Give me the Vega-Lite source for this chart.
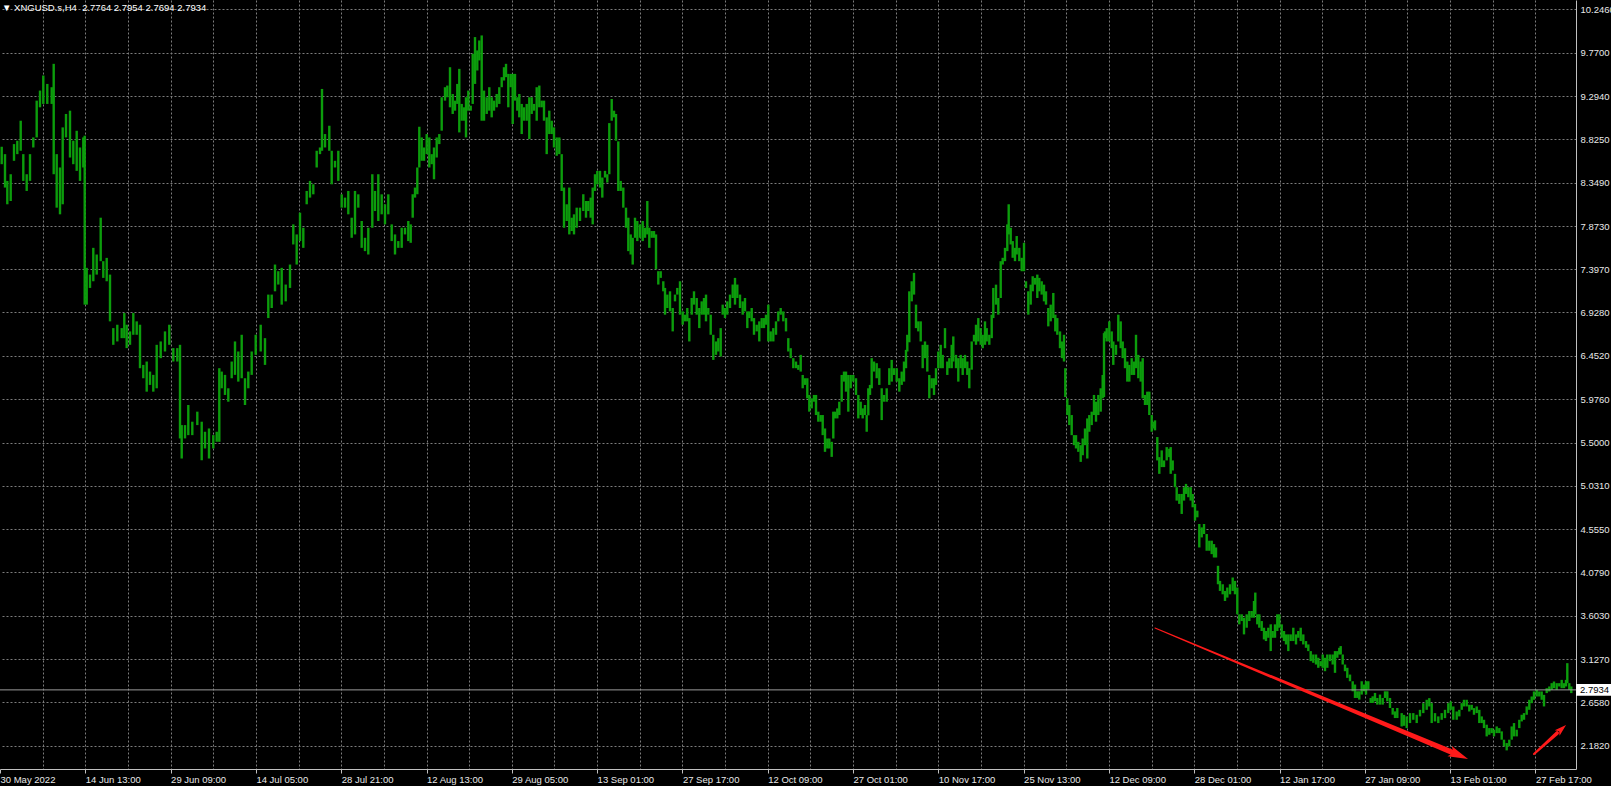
{
"$schema":"https://vega.github.io/schema/vega-lite/v6.json",
"width":1576,"height":769,
"autosize":{"type":"none"},
"padding":{"left":0,"top":0,"right":35,"bottom":17},
"background":"#000000",
"title":{"text":"▼ XNGUSD.s,H4\u00a0\u00a02.7764 2.7954 2.7694 2.7934","anchor":"start","frame":"group","offset":-12,"color":"#ffffff","font":"Liberation Sans","fontSize":9.5,"fontWeight":"normal","dx":2},
"config":{"view":{"stroke":null}},
"datasets":{
"bars":[
{"x":1.7,"h":8.741,"l":8.55},{"x":5,"h":8.66,"l":8.294},{"x":7.3,"h":8.367,"l":8.111},{"x":10.7,"h":8.44,"l":8.147},{"x":14,"h":8.77,"l":8.587},{"x":17.3,"h":8.807,"l":8.66},{"x":20.7,"h":9.026,"l":8.697},{"x":23.3,"h":8.66,"l":8.367},{"x":26.7,"h":8.44,"l":8.257},{"x":30,"h":8.66,"l":8.367},{"x":33.3,"h":8.843,"l":8.733},{"x":36.7,"h":9.246,"l":8.843},{"x":40,"h":9.356,"l":9.173},{"x":43.3,"h":9.521,"l":9.21},{"x":47.3,"h":9.429,"l":9.21},{"x":51.7,"h":9.393,"l":9.21},{"x":53.7,"h":9.649,"l":8.44},{"x":56.7,"h":8.66,"l":8.074},{"x":60,"h":8.514,"l":8.001},{"x":62.7,"h":8.953,"l":8.111},{"x":66,"h":9.1,"l":8.843},{"x":70,"h":9.136,"l":8.623},{"x":73.3,"h":8.807,"l":8.55},{"x":76.7,"h":8.916,"l":8.477},{"x":80,"h":8.733,"l":8.367},{"x":83.3,"h":8.843,"l":8.514},{"x":84.7,"h":8.862,"l":7.012},{"x":86.7,"h":7.415,"l":7.012},{"x":90,"h":7.341,"l":7.195},{"x":93.3,"h":7.634,"l":7.268},{"x":96.7,"h":7.561,"l":7.341},{"x":100.7,"h":7.964,"l":7.488},{"x":103.3,"h":7.488,"l":7.305},{"x":106.7,"h":7.524,"l":7.268},{"x":110,"h":7.341,"l":6.829},{"x":113.3,"h":6.755,"l":6.572},{"x":117.3,"h":6.792,"l":6.609},{"x":121.7,"h":6.755,"l":6.645},{"x":124.3,"h":6.92,"l":6.645},{"x":126.7,"h":6.792,"l":6.536},{"x":130,"h":6.719,"l":6.572},{"x":133.3,"h":6.92,"l":6.682},{"x":136.7,"h":6.829,"l":6.682},{"x":140,"h":6.792,"l":6.316},{"x":143.3,"h":6.352,"l":6.206},{"x":146.7,"h":6.389,"l":6.059},{"x":150,"h":6.279,"l":6.133},{"x":153.3,"h":6.243,"l":6.059},{"x":156.7,"h":6.572,"l":6.096},{"x":160.7,"h":6.609,"l":6.426},{"x":165,"h":6.719,"l":6.499},{"x":169.3,"h":6.792,"l":6.572},{"x":173.3,"h":6.536,"l":6.389},{"x":177.3,"h":6.536,"l":6.389},{"x":180,"h":6.572,"l":5.547},{"x":181.7,"h":5.693,"l":5.327},{"x":185,"h":5.693,"l":5.547},{"x":188.3,"h":5.913,"l":5.583},{"x":192.3,"h":5.73,"l":5.583},{"x":197.3,"h":5.84,"l":5.693},{"x":201.7,"h":5.73,"l":5.308},{"x":205,"h":5.62,"l":5.437},{"x":209,"h":5.656,"l":5.327},{"x":213.3,"h":5.583,"l":5.437},{"x":216.7,"h":5.62,"l":5.51},{"x":219.3,"h":6.316,"l":5.51},{"x":221.7,"h":6.279,"l":6.096},{"x":225,"h":6.243,"l":6.023},{"x":228.3,"h":6.096,"l":5.949},{"x":231.7,"h":6.389,"l":6.206},{"x":235,"h":6.609,"l":6.243},{"x":238.3,"h":6.499,"l":6.169},{"x":241.7,"h":6.682,"l":6.206},{"x":245,"h":6.206,"l":5.913},{"x":248.3,"h":6.279,"l":6.096},{"x":251.7,"h":6.499,"l":6.243},{"x":255.7,"h":6.682,"l":6.462},{"x":260.7,"h":6.792,"l":6.499},{"x":265,"h":6.645,"l":6.352},{"x":268.3,"h":7.122,"l":6.865},{"x":271.7,"h":7.122,"l":6.975},{"x":275,"h":7.451,"l":7.158},{"x":278.3,"h":7.378,"l":7.232},{"x":281.7,"h":7.415,"l":7.012},{"x":285.7,"h":7.232,"l":7.048},{"x":290,"h":7.451,"l":7.195},{"x":293.3,"h":7.891,"l":7.671},{"x":296.7,"h":7.781,"l":7.451},{"x":300,"h":8.019,"l":7.708},{"x":303.3,"h":7.854,"l":7.634},{"x":306.7,"h":8.257,"l":8.111},{"x":310,"h":8.367,"l":8.184},{"x":313.3,"h":8.33,"l":8.22},{"x":316.7,"h":8.697,"l":8.514},{"x":320,"h":8.733,"l":8.66},{"x":322,"h":9.374,"l":8.697},{"x":325,"h":8.88,"l":8.733},{"x":329.3,"h":8.971,"l":8.697},{"x":331.7,"h":8.697,"l":8.33},{"x":335,"h":8.587,"l":8.514},{"x":338.3,"h":8.697,"l":8.367},{"x":341.7,"h":8.22,"l":8.074},{"x":345,"h":8.184,"l":8.074},{"x":348.3,"h":8.257,"l":8.001},{"x":351.7,"h":7.964,"l":7.744},{"x":355,"h":8.257,"l":7.781},{"x":358.3,"h":8.22,"l":8.074},{"x":361.7,"h":7.928,"l":7.634},{"x":365,"h":7.744,"l":7.598},{"x":368.3,"h":7.854,"l":7.561},{"x":372.3,"h":8.44,"l":7.854},{"x":375,"h":8.257,"l":8.037},{"x":378.3,"h":8.44,"l":7.928},{"x":381.7,"h":8.22,"l":8.001},{"x":385,"h":8.111,"l":7.891},{"x":388.3,"h":8.22,"l":8.001},{"x":391.7,"h":7.891,"l":7.708},{"x":395,"h":7.781,"l":7.561},{"x":398.3,"h":7.708,"l":7.634},
{"x":401.7,"h":7.854,"l":7.634},{"x":405,"h":7.854,"l":7.781},{"x":408.3,"h":7.928,"l":7.708},{"x":410.7,"h":7.891,"l":7.689},{"x":412.7,"h":8.221,"l":7.964},{"x":415,"h":8.294,"l":8.184},{"x":417.3,"h":8.514,"l":8.221},{"x":419.3,"h":8.96,"l":8.514},{"x":421.7,"h":8.843,"l":8.587},{"x":424,"h":8.733,"l":8.587},{"x":426.7,"h":8.88,"l":8.66},{"x":429.3,"h":8.843,"l":8.514},{"x":431.7,"h":8.66,"l":8.55},{"x":434,"h":8.733,"l":8.385},{"x":436.7,"h":8.843,"l":8.623},{"x":439.3,"h":8.88,"l":8.77},{"x":441.7,"h":9.283,"l":8.917},{"x":445,"h":9.393,"l":9.246},{"x":447.3,"h":9.411,"l":9.283},{"x":450,"h":9.612,"l":9.173},{"x":452.7,"h":9.319,"l":9.1},{"x":455,"h":9.246,"l":9.136},{"x":457.3,"h":9.429,"l":9.21},{"x":459.3,"h":9.594,"l":8.898},{"x":461.7,"h":9.21,"l":9.026},{"x":464,"h":9.173,"l":9.026},{"x":466,"h":9.283,"l":8.843},{"x":468.3,"h":9.356,"l":9.136},{"x":470.7,"h":9.191,"l":9.136},{"x":472.7,"h":9.759,"l":9.21},{"x":475,"h":9.942,"l":9.429},{"x":477.3,"h":9.796,"l":9.576},{"x":479.3,"h":9.905,"l":9.686},{"x":481.7,"h":9.96,"l":9.026},{"x":484,"h":9.356,"l":9.026},{"x":486.7,"h":9.283,"l":9.1},{"x":489.3,"h":9.393,"l":9.136},{"x":491.7,"h":9.283,"l":9.063},{"x":494,"h":9.246,"l":9.136},{"x":496.7,"h":9.319,"l":9.173},{"x":499.3,"h":9.393,"l":9.21},{"x":501.7,"h":9.503,"l":9.393},{"x":504,"h":9.612,"l":9.466},{"x":506,"h":9.649,"l":9.503},{"x":508.3,"h":9.539,"l":9.173},{"x":510.7,"h":9.539,"l":9.393},{"x":512.7,"h":9.539,"l":8.99},{"x":515,"h":9.539,"l":9.246},{"x":517.3,"h":9.283,"l":9.136},{"x":519.3,"h":9.319,"l":9.063},{"x":521.7,"h":9.21,"l":8.88},{"x":524,"h":9.173,"l":9.026},{"x":526.7,"h":9.21,"l":9.026},{"x":529.3,"h":9.283,"l":8.825},{"x":531.7,"h":9.283,"l":9.1},{"x":534,"h":9.21,"l":9.136},{"x":536.7,"h":9.393,"l":9.026},{"x":539.3,"h":9.411,"l":9.173},{"x":541.7,"h":9.246,"l":9.173},{"x":544,"h":9.246,"l":9.026},{"x":546.7,"h":9.063,"l":8.66},{"x":549.3,"h":9.136,"l":8.88},{"x":551.7,"h":9.026,"l":8.88},{"x":554,"h":8.953,"l":8.733},{"x":556.7,"h":8.843,"l":8.642},{"x":559.3,"h":8.843,"l":8.66},{"x":561.7,"h":8.66,"l":8.257},{"x":564,"h":8.294,"l":7.854},{"x":566.7,"h":8.111,"l":7.928},{"x":569.3,"h":8.294,"l":7.781},{"x":571.7,"h":7.964,"l":7.818},{"x":574,"h":8.001,"l":7.781},{"x":576.7,"h":8.074,"l":7.854},{"x":580,"h":8.074,"l":7.928},{"x":583.3,"h":8.221,"l":8.037},{"x":586,"h":8.147,"l":7.964},{"x":588.3,"h":8.147,"l":8.037},{"x":590.7,"h":8.184,"l":7.964},{"x":592.7,"h":8.294,"l":7.891},{"x":595,"h":8.44,"l":8.257},{"x":597.3,"h":8.477,"l":8.33},{"x":600,"h":8.477,"l":8.294},{"x":602.3,"h":8.404,"l":8.184},{"x":605,"h":8.477,"l":8.404},{"x":607.3,"h":8.44,"l":8.349},{"x":609.3,"h":9.0,"l":8.44},{"x":611.7,"h":9.264,"l":9.026},{"x":614,"h":9.136,"l":9.063},{"x":616,"h":9.1,"l":8.807},{"x":618.3,"h":8.8,"l":8.257},{"x":620.7,"h":8.367,"l":8.257},{"x":623.3,"h":8.294,"l":8.074},{"x":626,"h":8.074,"l":7.854},{"x":628.3,"h":7.964,"l":7.598},{"x":630.7,"h":7.781,"l":7.561},{"x":632.7,"h":7.744,"l":7.451},{"x":635,"h":7.964,"l":7.744},{"x":637.3,"h":7.928,"l":7.708},{"x":640,"h":7.891,"l":7.744},{"x":642.7,"h":7.928,"l":7.708},{"x":645,"h":7.854,"l":7.744},{"x":647.3,"h":8.147,"l":7.781},{"x":649.3,"h":7.854,"l":7.634},{"x":651.7,"h":7.818,"l":7.744},{"x":654,"h":7.818,"l":7.744},{"x":656,"h":7.781,"l":7.4},{"x":658.3,"h":7.378,"l":7.232},{"x":660.7,"h":7.378,"l":7.305},{"x":663.3,"h":7.268,"l":7.158},{"x":665,"h":7.195,"l":6.902},{"x":667.3,"h":7.122,"l":6.975},{"x":670,"h":7.158,"l":6.938},{"x":672.7,"h":6.975,"l":6.719},{"x":675,"h":7.122,"l":7.048},{"x":677.3,"h":7.195,"l":7.122},{"x":680,"h":7.268,"l":6.902},{"x":682.7,"h":6.938,"l":6.792},{"x":685,"h":6.902,"l":6.829},{"x":687.3,"h":6.975,"l":6.829},{"x":689.3,"h":6.865,"l":6.609},{"x":691.7,"h":7.085,"l":6.902},{"x":694,"h":7.158,"l":7.012},{"x":696.7,"h":7.085,"l":6.902},{"x":699.3,"h":6.975,"l":6.755},{"x":701.7,"h":7.048,"l":6.902},{"x":704,"h":7.085,"l":6.902},{"x":706,"h":7.122,"l":6.829},{"x":708.3,"h":6.975,"l":6.902},{"x":710.7,"h":6.902,"l":6.682},{"x":713.3,"h":6.682,"l":6.407},{"x":716,"h":6.609,"l":6.462},{"x":718.3,"h":6.645,"l":6.499},{"x":720.7,"h":6.755,"l":6.444},{"x":722.7,"h":7.012,"l":6.902},{"x":725,"h":6.975,"l":6.865},{"x":727.3,"h":7.048,"l":6.902},{"x":730,"h":7.122,"l":6.975},{"x":732.7,"h":7.232,"l":7.085},{"x":735,"h":7.305,"l":7.012},{"x":737.3,"h":7.232,"l":7.085},{"x":740,"h":7.122,"l":6.975},{"x":742.7,"h":7.048,"l":6.902},{"x":745,"h":7.085,"l":6.938},{"x":747.3,"h":6.938,"l":6.755},{"x":749.3,"h":6.938,"l":6.865},{"x":751.7,"h":6.975,"l":6.829},{"x":754,"h":6.865,"l":6.682},{"x":756.7,"h":6.792,"l":6.719},{"x":759.3,"h":6.829,"l":6.609},{"x":761.7,"h":6.865,"l":6.755},{"x":764,"h":6.865,"l":6.755},{"x":766,"h":6.902,"l":6.792},{"x":768.3,"h":7.012,"l":6.609},{"x":770.7,"h":6.719,"l":6.609},{"x":773.3,"h":6.755,"l":6.609},{"x":776,"h":6.829,"l":6.682},{"x":778.3,"h":6.938,"l":6.829},{"x":780.7,"h":6.975,"l":6.902},{"x":783.3,"h":6.938,"l":6.829},{"x":786,"h":6.865,"l":6.719},{"x":788.3,"h":6.645,"l":6.499},{"x":790.7,"h":6.535,"l":6.426},{"x":793.3,"h":6.426,"l":6.316},{"x":796,"h":6.389,"l":6.316},{"x":798.3,"h":6.352,"l":6.298},
{"x":800.7,"h":6.462,"l":6.279},{"x":802.7,"h":6.242,"l":6.096},{"x":805,"h":6.206,"l":6.133},{"x":807.3,"h":6.206,"l":5.986},{"x":809.3,"h":6.023,"l":5.84},{"x":811.7,"h":5.986,"l":5.876},{"x":814,"h":6.023,"l":5.949},{"x":816,"h":6.023,"l":5.803},{"x":818.3,"h":5.84,"l":5.73},{"x":820.7,"h":5.803,"l":5.73},{"x":822.7,"h":5.803,"l":5.583},{"x":825,"h":5.656,"l":5.4},{"x":827.3,"h":5.546,"l":5.437},{"x":829.3,"h":5.546,"l":5.437},{"x":831.7,"h":5.51,"l":5.345},{"x":833.3,"h":5.84,"l":5.546},{"x":835,"h":5.84,"l":5.766},{"x":837.3,"h":5.876,"l":5.766},{"x":839.3,"h":5.949,"l":5.803},{"x":841.7,"h":6.242,"l":5.949},{"x":844,"h":6.279,"l":6.169},{"x":846,"h":6.279,"l":6.059},{"x":848.3,"h":6.242,"l":5.84},{"x":850.7,"h":6.242,"l":6.096},{"x":853.3,"h":6.242,"l":6.169},{"x":856,"h":6.206,"l":6.023},{"x":858.3,"h":6.023,"l":5.766},{"x":860.7,"h":5.949,"l":5.803},{"x":862.7,"h":5.876,"l":5.766},{"x":865,"h":5.913,"l":5.803},{"x":866.7,"h":5.803,"l":5.62},{"x":868.3,"h":6.096,"l":5.8},{"x":870,"h":6.133,"l":6.023},{"x":871.7,"h":6.426,"l":6.096},{"x":874,"h":6.389,"l":6.279},{"x":876.7,"h":6.371,"l":6.206},{"x":879.3,"h":6.316,"l":6.133},{"x":881.7,"h":6.096,"l":5.748},{"x":884,"h":6.023,"l":5.949},{"x":886.7,"h":6.096,"l":5.949},{"x":889.3,"h":6.316,"l":6.133},{"x":891.7,"h":6.407,"l":6.169},{"x":894,"h":6.316,"l":6.242},{"x":896.7,"h":6.316,"l":6.169},{"x":899.3,"h":6.206,"l":6.059},{"x":901.7,"h":6.279,"l":6.133},{"x":904,"h":6.389,"l":6.169},{"x":906,"h":6.517,"l":6.316},{"x":907.3,"h":6.682,"l":6.499},{"x":909.3,"h":7.158,"l":6.6},{"x":911.7,"h":7.268,"l":7.048},{"x":914,"h":7.36,"l":7.122},{"x":916,"h":7.012,"l":6.755},{"x":918.3,"h":6.829,"l":6.719},{"x":920.7,"h":6.829,"l":6.609},{"x":922.7,"h":6.572,"l":6.316},{"x":925,"h":6.609,"l":6.426},{"x":927.3,"h":6.572,"l":6.279},{"x":929.3,"h":6.242,"l":5.986},{"x":931.7,"h":6.206,"l":6.096},{"x":934,"h":6.206,"l":6.023},{"x":936,"h":6.316,"l":6.133},{"x":938.3,"h":6.499,"l":6.316},{"x":940.7,"h":6.572,"l":6.316},{"x":942.7,"h":6.462,"l":6.316},{"x":945,"h":6.755,"l":6.535},{"x":947.3,"h":6.389,"l":6.242},{"x":949.3,"h":6.426,"l":6.316},{"x":951.7,"h":6.572,"l":6.316},{"x":953.3,"h":6.664,"l":6.389},{"x":956,"h":6.462,"l":6.316},{"x":958.3,"h":6.426,"l":6.169},{"x":960.7,"h":6.462,"l":6.316},{"x":962.7,"h":6.426,"l":6.242},{"x":965,"h":6.462,"l":6.316},{"x":967.3,"h":6.389,"l":6.242},{"x":969.3,"h":6.316,"l":6.096},{"x":971.7,"h":6.609,"l":6.3},{"x":974,"h":6.682,"l":6.609},{"x":976,"h":6.792,"l":6.572},{"x":978.3,"h":6.865,"l":6.609},{"x":980.7,"h":6.755,"l":6.572},{"x":982.7,"h":6.682,"l":6.535},{"x":985,"h":6.829,"l":6.572},{"x":986.7,"h":6.755,"l":6.609},{"x":989.3,"h":6.682,"l":6.572},{"x":991.7,"h":6.902,"l":6.645},{"x":993.3,"h":7.195,"l":6.865},{"x":996,"h":7.231,"l":7.012},{"x":998.3,"h":7.085,"l":6.902},{"x":1000.7,"h":7.488,"l":7.085},{"x":1002.7,"h":7.525,"l":7.451},{"x":1005,"h":7.634,"l":7.488},{"x":1007.3,"h":7.891,"l":7.598},{"x":1008.7,"h":8.111,"l":7.781},{"x":1010.7,"h":7.854,"l":7.671},{"x":1012.7,"h":7.708,"l":7.525},{"x":1015,"h":7.634,"l":7.488},{"x":1016.7,"h":7.763,"l":7.561},{"x":1019.3,"h":7.634,"l":7.488},{"x":1021.7,"h":7.525,"l":7.378},{"x":1024,"h":7.689,"l":7.378},{"x":1026,"h":7.268,"l":7.195},{"x":1028.3,"h":7.158,"l":6.902},{"x":1030.7,"h":7.231,"l":7.012},{"x":1032.7,"h":7.323,"l":7.158},{"x":1035,"h":7.305,"l":7.231},{"x":1037.3,"h":7.341,"l":7.085},{"x":1039.3,"h":7.305,"l":7.158},{"x":1041.7,"h":7.268,"l":7.122},{"x":1044,"h":7.231,"l":7.048},{"x":1046,"h":7.158,"l":7.012},{"x":1048.3,"h":6.975,"l":6.774},{"x":1050.7,"h":7.012,"l":6.829},{"x":1053.3,"h":7.14,"l":6.865},{"x":1055.3,"h":6.902,"l":6.719},{"x":1057.3,"h":6.865,"l":6.682},{"x":1060,"h":6.719,"l":6.535},{"x":1062,"h":6.609,"l":6.426},{"x":1064,"h":6.682,"l":6.389},{"x":1065.3,"h":6.316,"l":6.0},{"x":1067.3,"h":5.986,"l":5.803},{"x":1069.3,"h":5.913,"l":5.693},{"x":1071.7,"h":5.803,"l":5.583},{"x":1074,"h":5.583,"l":5.473},{"x":1076,"h":5.583,"l":5.437},{"x":1078.3,"h":5.51,"l":5.4},{"x":1080.7,"h":5.473,"l":5.29},{"x":1082.7,"h":5.546,"l":5.363},{"x":1085,"h":5.656,"l":5.473},{"x":1087.3,"h":5.766,"l":5.327},{"x":1089.3,"h":5.803,"l":5.62},{"x":1091.7,"h":5.84,"l":5.693},{"x":1094,"h":6.023,"l":5.803},{"x":1096,"h":5.949,"l":5.73},{"x":1098.3,"h":6.023,"l":5.803},{"x":1100.7,"h":6.096,"l":5.84},{"x":1102.7,"h":6.242,"l":5.986},{"x":1104,"h":6.7,"l":6.0},{"x":1105,"h":6.719,"l":6.645},{"x":1106.7,"h":6.755,"l":6.609},{"x":1109.3,"h":6.829,"l":6.609},{"x":1111.7,"h":6.719,"l":6.535},{"x":1113.3,"h":6.609,"l":6.352},{"x":1116,"h":6.572,"l":6.462},{"x":1118.3,"h":6.902,"l":6.609},{"x":1120.7,"h":6.829,"l":6.535},{"x":1122.7,"h":6.609,"l":6.426},{"x":1125,"h":6.535,"l":6.316},{"x":1127.3,"h":6.389,"l":6.169},{"x":1129.3,"h":6.352,"l":6.169},{"x":1131.7,"h":6.426,"l":6.242},{"x":1134,"h":6.389,"l":6.242},{"x":1136,"h":6.682,"l":6.316},{"x":1138.3,"h":6.462,"l":6.206},{"x":1140.7,"h":6.389,"l":6.169},{"x":1142.7,"h":6.426,"l":5.986},{"x":1145,"h":6.023,"l":5.913},{"x":1147.3,"h":6.059,"l":5.913},{"x":1149.3,"h":6.059,"l":5.803},{"x":1151.7,"h":5.803,"l":5.62},{"x":1154,"h":5.73,"l":5.656},
{"x":1155,"h":5.745,"l":5.635},{"x":1157.3,"h":5.562,"l":5.306},{"x":1159.3,"h":5.342,"l":5.159},{"x":1161.7,"h":5.416,"l":5.233},{"x":1164,"h":5.306,"l":5.233},{"x":1166.7,"h":5.452,"l":5.306},{"x":1169.3,"h":5.434,"l":5.342},{"x":1170.7,"h":5.452,"l":5.159},{"x":1172.7,"h":5.306,"l":5.196},{"x":1175,"h":5.159,"l":5.013},{"x":1176.7,"h":5.013,"l":4.866},{"x":1179.3,"h":4.939,"l":4.83},{"x":1181.7,"h":4.939,"l":4.72},{"x":1184,"h":5.013,"l":4.866},{"x":1186,"h":5.049,"l":4.939},{"x":1188.3,"h":5.013,"l":4.903},{"x":1190.7,"h":5.013,"l":4.866},{"x":1192.7,"h":4.939,"l":4.793},{"x":1195,"h":4.83,"l":4.646},{"x":1197.3,"h":4.756,"l":4.683},{"x":1199.3,"h":4.61,"l":4.353},{"x":1201.7,"h":4.573,"l":4.463},{"x":1204,"h":4.61,"l":4.5},{"x":1206.7,"h":4.5,"l":4.317},{"x":1209.3,"h":4.427,"l":4.317},{"x":1211.7,"h":4.427,"l":4.28},{"x":1214,"h":4.39,"l":4.243},{"x":1216,"h":4.353,"l":4.243},{"x":1218,"h":4.152,"l":3.95},{"x":1220,"h":3.987,"l":3.877},{"x":1222.7,"h":3.95,"l":3.84},{"x":1225,"h":3.877,"l":3.767},{"x":1227.3,"h":3.914,"l":3.804},{"x":1230,"h":3.95,"l":3.84},{"x":1232.7,"h":4.024,"l":3.877},{"x":1235,"h":3.987,"l":3.84},{"x":1237.3,"h":3.914,"l":3.621},{"x":1239.3,"h":3.621,"l":3.511},{"x":1241.7,"h":3.621,"l":3.547},{"x":1244,"h":3.584,"l":3.401},{"x":1246.7,"h":3.621,"l":3.474},{"x":1249.3,"h":3.657,"l":3.547},{"x":1251.7,"h":3.657,"l":3.584},{"x":1254,"h":3.767,"l":3.584},{"x":1255.3,"h":3.859,"l":3.621},{"x":1257.3,"h":3.621,"l":3.511},{"x":1259.3,"h":3.621,"l":3.474},{"x":1261.7,"h":3.547,"l":3.438},{"x":1264,"h":3.474,"l":3.346},{"x":1266,"h":3.438,"l":3.328},{"x":1268.3,"h":3.474,"l":3.364},{"x":1270.7,"h":3.511,"l":3.218},{"x":1272.7,"h":3.438,"l":3.364},{"x":1275,"h":3.511,"l":3.364},{"x":1277.3,"h":3.621,"l":3.438},{"x":1279.3,"h":3.621,"l":3.474},{"x":1281.7,"h":3.511,"l":3.364},{"x":1284,"h":3.438,"l":3.328},{"x":1286,"h":3.401,"l":3.291},{"x":1288.3,"h":3.401,"l":3.218},{"x":1290.7,"h":3.401,"l":3.328},{"x":1293.3,"h":3.474,"l":3.328},{"x":1296,"h":3.401,"l":3.291},{"x":1298.3,"h":3.438,"l":3.364},{"x":1300.7,"h":3.474,"l":3.328},{"x":1303.3,"h":3.401,"l":3.291},{"x":1306,"h":3.328,"l":3.254},{"x":1308.3,"h":3.291,"l":3.218},{"x":1310.7,"h":3.218,"l":3.108},{"x":1313.3,"h":3.181,"l":3.09},{"x":1316,"h":3.181,"l":3.071},{"x":1318.3,"h":3.145,"l":3.035},{"x":1320.7,"h":3.108,"l":3.053},{"x":1322.7,"h":3.181,"l":3.035},{"x":1325,"h":3.145,"l":2.998},{"x":1327.3,"h":3.181,"l":3.035},{"x":1330,"h":3.181,"l":3.108},{"x":1332.7,"h":3.181,"l":3.071},{"x":1335,"h":3.218,"l":2.98},{"x":1337.3,"h":3.218,"l":3.145},{"x":1339.3,"h":3.254,"l":3.181},{"x":1340.7,"h":3.273,"l":3.181},{"x":1342.7,"h":3.181,"l":3.071},{"x":1345,"h":3.071,"l":2.998},{"x":1347.3,"h":3.035,"l":2.925},{"x":1350,"h":2.961,"l":2.888},{"x":1352.7,"h":2.888,"l":2.778},{"x":1355,"h":2.852,"l":2.705},{"x":1357.3,"h":2.778,"l":2.705},{"x":1359.3,"h":2.778,"l":2.687},{"x":1361.7,"h":2.888,"l":2.742},{"x":1364,"h":2.852,"l":2.778},{"x":1366,"h":2.888,"l":2.742},{"x":1368.3,"h":2.888,"l":2.797},{"x":1370.7,"h":2.705,"l":2.65},{"x":1372.7,"h":2.723,"l":2.65},{"x":1375,"h":2.76,"l":2.668},{"x":1377.3,"h":2.705,"l":2.632},{"x":1380,"h":2.742,"l":2.632},{"x":1382.7,"h":2.705,"l":2.632},{"x":1385,"h":2.778,"l":2.705},{"x":1387.3,"h":2.778,"l":2.668},{"x":1390,"h":2.705,"l":2.595},{"x":1392.7,"h":2.595,"l":2.522},{"x":1395,"h":2.558,"l":2.485},{"x":1397.3,"h":2.595,"l":2.485},
{"x":1401.7,"h":2.539,"l":2.393},{"x":1404,"h":2.52,"l":2.4},{"x":1406.7,"h":2.503,"l":2.375},{"x":1410,"h":2.539,"l":2.43},{"x":1413.3,"h":2.539,"l":2.466},{"x":1416.7,"h":2.521,"l":2.43},{"x":1420,"h":2.575,"l":2.503},{"x":1423.3,"h":2.648,"l":2.539},{"x":1426.7,"h":2.685,"l":2.575},{"x":1429.3,"h":2.703,"l":2.612},{"x":1431.7,"h":2.648,"l":2.43},{"x":1435,"h":2.539,"l":2.448},{"x":1438.3,"h":2.503,"l":2.43},{"x":1441.7,"h":2.539,"l":2.466},{"x":1445,"h":2.575,"l":2.484},{"x":1448.3,"h":2.648,"l":2.539},{"x":1450.7,"h":2.667,"l":2.575},{"x":1453.3,"h":2.612,"l":2.466},{"x":1456.7,"h":2.557,"l":2.466},{"x":1459.3,"h":2.575,"l":2.503},{"x":1461.7,"h":2.648,"l":2.575},{"x":1464,"h":2.685,"l":2.612},{"x":1466.7,"h":2.685,"l":2.612},{"x":1469.3,"h":2.63,"l":2.557},{"x":1471.7,"h":2.63,"l":2.575},{"x":1474,"h":2.594,"l":2.521},{"x":1476.7,"h":2.612,"l":2.539},{"x":1479.3,"h":2.575,"l":2.43},{"x":1481.7,"h":2.503,"l":2.43},{"x":1484,"h":2.466,"l":2.375},{"x":1486.7,"h":2.412,"l":2.284},{"x":1489.3,"h":2.375,"l":2.302},{"x":1491.7,"h":2.375,"l":2.32},{"x":1494,"h":2.357,"l":2.284},{"x":1496.7,"h":2.393,"l":2.32},{"x":1499.3,"h":2.375,"l":2.32},{"x":1501.7,"h":2.339,"l":2.248},{"x":1504,"h":2.248,"l":2.175},{"x":1506.7,"h":2.211,"l":2.131},{"x":1509.3,"h":2.248,"l":2.175},{"x":1511.7,"h":2.393,"l":2.248},{"x":1514,"h":2.43,"l":2.284},{"x":1516.7,"h":2.357,"l":2.284},{"x":1519.3,"h":2.466,"l":2.375},{"x":1521.7,"h":2.521,"l":2.448},{"x":1524,"h":2.539,"l":2.466},{"x":1526.7,"h":2.612,"l":2.521},{"x":1529.3,"h":2.685,"l":2.575},{"x":1531.7,"h":2.721,"l":2.648},{"x":1534,"h":2.776,"l":2.685},{"x":1536.7,"h":2.794,"l":2.721},{"x":1539.3,"h":2.776,"l":2.721},{"x":1541.7,"h":2.776,"l":2.685},{"x":1544,"h":2.739,"l":2.612},{"x":1546.7,"h":2.812,"l":2.758},{"x":1549.3,"h":2.831,"l":2.776},{"x":1551.7,"h":2.867,"l":2.794},{"x":1554,"h":2.885,"l":2.812},{"x":1556.7,"h":2.867,"l":2.794},{"x":1559.3,"h":2.867,"l":2.831},{"x":1561.7,"h":2.903,"l":2.812},{"x":1564,"h":2.867,"l":2.812},{"x":1566,"h":2.903,"l":2.831},{"x":1567.3,"h":3.086,"l":2.867},{"x":1569.3,"h":2.867,"l":2.794},{"x":1571.3,"h":2.831,"l":2.758}
],
"arrows":[
{"id":1,"x":1155,"y":3.471,"t":0},{"id":1,"x":1452,"y":2.111,"t":1},
{"id":2,"x":1534,"y":2.092,"t":0.25},{"id":2,"x":1557.1,"y":2.321,"t":0.6}
]
},
"layer":[
{"data":{"name":"bars"},"mark":{"type":"rule","color":"#0c9d0c","strokeWidth":2.4},
 "encoding":{
  "x":{"field":"x","type":"quantitative","scale":{"domain":[0,1576],"nice":false,"zero":false},
   "axis":{"values":[0,42.65,85.3,127.95,170.6,213.25,255.9,298.55,341.2,383.85,426.5,469.15,511.8,554.45,597.1,639.75,682.4,725.05,767.7,810.35,853,895.65,938.3,980.95,1023.6,1066.25,1108.9,1151.55,1194.2,1236.85,1279.5,1322.15,1364.8,1407.45,1450.1,1492.75,1535.4],
    "labelExpr":"abs(datum.value/85.3-round(datum.value/85.3))<0.01 ? ['30 May 2022','14 Jun 13:00','29 Jun 09:00','14 Jul 05:00','28 Jul 21:00','12 Aug 13:00','29 Aug 05:00','13 Sep 01:00','27 Sep 17:00','12 Oct 09:00','27 Oct 01:00','10 Nov 17:00','25 Nov 13:00','12 Dec 09:00','28 Dec 01:00','12 Jan 17:00','27 Jan 09:00','13 Feb 01:00','27 Feb 17:00'][round(datum.value/85.3)] : ''",
    "title":null,"grid":true,"gridColor":"#7c7c7c","gridDash":[2,2],"gridWidth":1,
    "gridOpacity":{"condition":{"test":"datum.value < 1","value":0},"value":1},
    "domainColor":"#c0c0c0","domainWidth":1,
    "ticks":true,"tickColor":"#c0c0c0","tickSize":4,
    "tickOpacity":{"condition":{"test":"abs(datum.value/85.3-round(datum.value/85.3))<0.01","value":1},"value":0},
    "labelAlign":"left","labelBaseline":"top","labelPadding":1,"labelColor":"#e8e8e8","labelFont":"Liberation Sans","labelFontSize":9.5,
    "labelOverlap":false,"labelFlush":false,"labelBound":false}},
  "y":{"field":"l","type":"quantitative","scale":{"domain":[1.927,10.348],"nice":false,"zero":false},
   "axis":{"orient":"right","values":[10.246,9.77,9.294,8.825,8.349,7.873,7.397,6.928,6.452,5.976,5.5,5.031,4.555,4.079,3.603,3.127,2.658,2.182],
    "format":".4f","title":null,"grid":true,"gridColor":"#7c7c7c","gridDash":[2,2],"gridWidth":1,
    "domainColor":"#c0c0c0","domainWidth":1,"ticks":false,"tickSize":0,"labelPadding":4,"labelAlign":"left",
    "labelColor":"#e8e8e8","labelFont":"Liberation Sans","labelFontSize":9.5,"labelOverlap":false,"labelFlush":false,"labelBound":false}},
  "y2":{"field":"h"}}},
{"data":{"values":[{"l":2.7934}]},"mark":{"type":"rule","color":"#9a9a9a","strokeWidth":1},
 "encoding":{"y":{"field":"l","type":"quantitative"}}},
{"data":{"values":[{}]},"mark":{"type":"rect","color":"#ffffff"},
 "encoding":{"x":{"datum":1576,"type":"quantitative"},"x2":{"datum":1611},
  "y":{"datum":2.728,"type":"quantitative"},"y2":{"datum":2.859}}},
{"data":{"values":[{}]},"mark":{"type":"text","text":"2.7934","align":"left","baseline":"middle","font":"Liberation Sans","fontSize":9.5,"color":"#000000","dx":4},
 "encoding":{"x":{"datum":1576,"type":"quantitative"},
  "y":{"datum":2.7934,"type":"quantitative"}}},
{"data":{"name":"arrows"},"mark":{"type":"trail","color":"#ff1a1a"},
 "encoding":{"x":{"field":"x","type":"quantitative"},
  "y":{"field":"y","type":"quantitative"},
  "detail":{"field":"id","type":"nominal"},
  "size":{"field":"t","type":"quantitative","scale":{"domain":[0,1],"range":[1,5.5]},"legend":null}}},
{"data":{"values":[{}]},"mark":{"type":"point","shape":"M1,0L-1,-0.55L-0.55,0L-1,0.55Z","filled":true,"color":"#ff1a1a","opacity":1,"size":400,"angle":22.7},
 "encoding":{"x":{"datum":1458.8,"type":"quantitative"},
  "y":{"datum":2.08,"type":"quantitative"}}},
{"data":{"values":[{}]},"mark":{"type":"point","shape":"M1,0L-1,-0.6L-0.55,0L-1,0.6Z","filled":true,"color":"#ff1a1a","opacity":1,"size":144,"angle":317.8},
 "encoding":{"x":{"datum":1561.6,"type":"quantitative"},
  "y":{"datum":2.365,"type":"quantitative"}}}
]
}
